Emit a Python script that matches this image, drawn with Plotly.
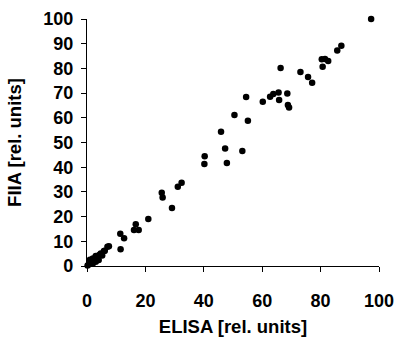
import plotly.graph_objects as go

# ELISA vs FIIA measurements (relative units)
elisa = [97.3, 87.1, 85.7, 80.4, 81.5, 82.6, 80.7, 66.3, 73.1, 75.7, 77.1,
         54.5, 60.2, 62.7, 63.8, 65.6, 65.8, 68.6, 68.8, 69.2, 50.5, 55.1,
         45.9, 47.3, 53.2, 40.3, 40.2, 47.9, 32.4, 31.1, 25.6, 25.9, 29.1,
         21.0, 16.7, 16.1, 17.7, 11.4, 12.7, 11.5, 7.0, 6.1,
         0.2, 0.7, 1.3, 1.5, 2.0, 2.5, 3.0, 3.0, 3.5, 4.0, 4.2, 4.7, 5.2,
         5.8, 1.0, 2.0, 7.5]
fiia = [100.0, 89.2, 87.2, 83.7, 83.8, 83.0, 80.7, 80.2, 78.5, 76.5, 74.2,
        68.4, 66.5, 68.5, 69.6, 70.2, 67.2, 69.8, 65.2, 64.2, 61.1, 58.8,
        54.4, 47.6, 46.6, 44.4, 41.3, 41.7, 33.7, 32.1, 29.7, 27.7, 23.5,
        19.0, 16.9, 14.6, 14.6, 13.1, 11.2, 6.8, 7.8, 6.2,
        0.2, 0.7, 1.0, 2.0, 3.0, 2.0, 1.7, 4.0, 3.0, 2.4, 4.5, 5.1, 4.3,
        6.1, 2.5, 1.0, 8.0]

x_ticks = [0, 20, 40, 60, 80, 100]
y_ticks = [0, 10, 20, 30, 40, 50, 60, 70, 80, 90, 100]

font_family = "Arial, Liberation Sans, sans-serif"
tick_font = dict(family=font_family, size=18, color="black")
title_font = dict(family=font_family, size=18.5, color="black")

fig = go.Figure(go.Scatter(
    x=elisa, y=fiia, mode="markers",
    marker=dict(color="black", size=6.5, line=dict(width=0)),
    cliponaxis=False,
))

axis_common = dict(
    showgrid=False, zeroline=False, showline=True, linecolor="black",
    linewidth=1.3, ticks="outside", ticklen=5, tickwidth=1.2,
    tickcolor="black", tickfont=tick_font, automargin=False,
)

fig.update_xaxes(
    range=[0, 100], tickvals=x_ticks,
    ticktext=[f"<b>{v}</b>" for v in x_ticks],
    ticklabelstandoff=13,
    title=dict(text="<b>ELISA [rel. units]</b>", standoff=10, font=title_font),
    **axis_common,
)
fig.update_yaxes(
    range=[0, 100], tickvals=y_ticks,
    ticktext=[f"<b>{v}</b>" for v in y_ticks],
    ticklabelstandoff=4,
    title=dict(text="<b>FIIA [rel. units]</b>", standoff=16, font=title_font),
    **axis_common,
)

fig.update_layout(
    width=398, height=338,
    margin=dict(l=87, r=19, t=19, b=72),
    plot_bgcolor="white", paper_bgcolor="white",
    showlegend=False,
)

fig.write_html("out.html")
